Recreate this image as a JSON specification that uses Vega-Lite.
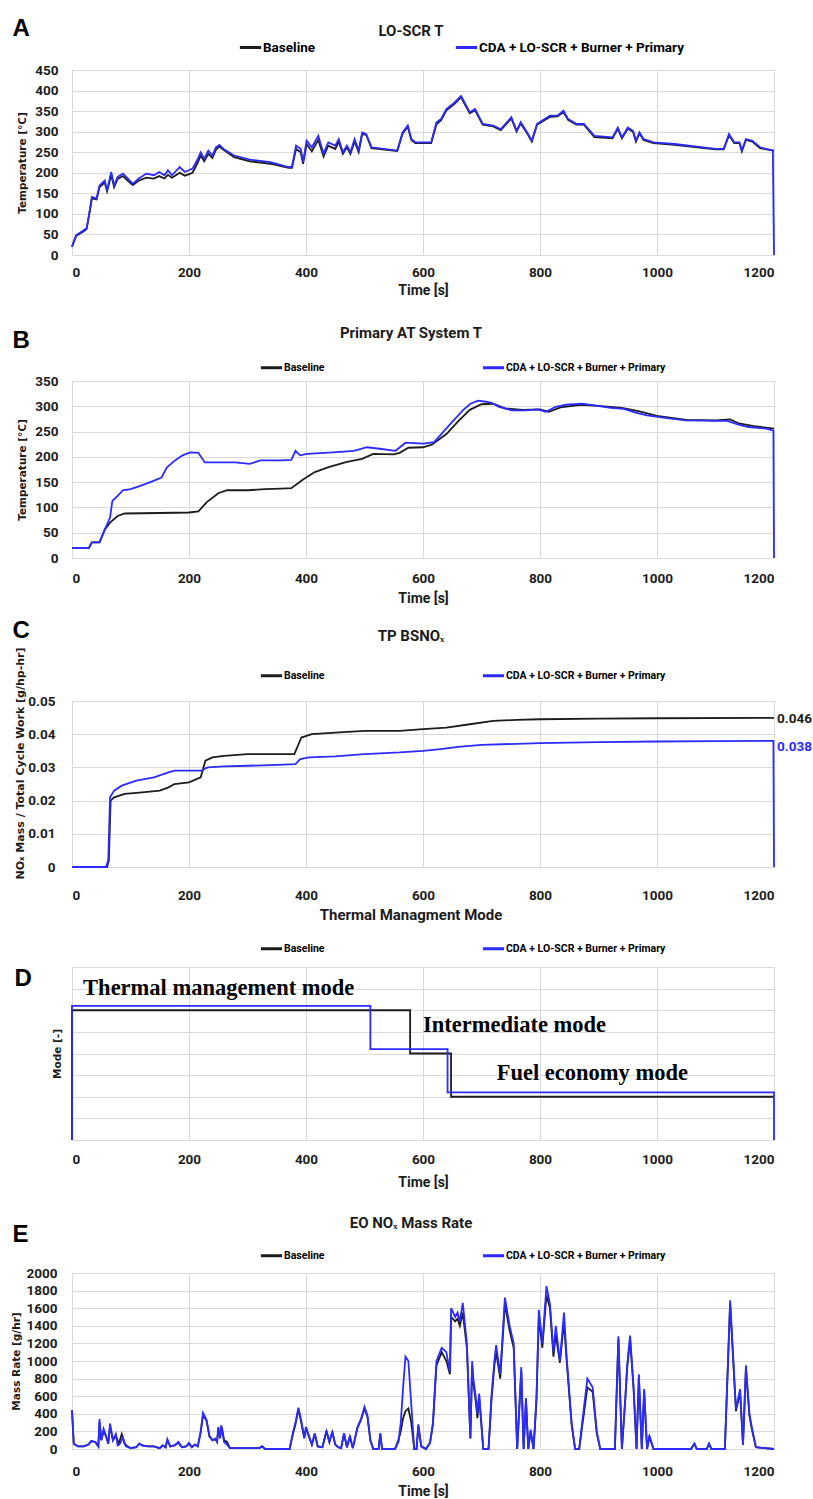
{
  "$schema": "https://vega.github.io/schema/vega-lite/v6.json",
  "padding": {"left": 10, "top": 17, "right": 0, "bottom": 0},
  "title": {"text": "A", "anchor": "start", "frame": "bounds", "dx": 2, "font": "Liberation Sans", "fontSize": 24, "fontWeight": "bold", "color": "#000", "offset": -17.5},
  "spacing": 27,
  "resolve": {"scale": {"color": "independent"}},
  "datasets": {
    "A": [
      {"s":"B","t":0,"v":20},{"s":"B","t":7,"v":46},{"s":"B","t":20,"v":58},{"s":"B","t":25,"v":63},{"s":"B","t":29,"v":95},{"s":"B","t":34,"v":138},{"s":"B","t":42,"v":135},{"s":"B","t":47,"v":165},{"s":"B","t":56,"v":176},{"s":"B","t":60,"v":155},{"s":"B","t":67,"v":195},{"s":"B","t":72,"v":165},{"s":"B","t":78,"v":185},{"s":"B","t":87,"v":192},{"s":"B","t":96,"v":180},{"s":"B","t":104,"v":170},{"s":"B","t":113,"v":180},{"s":"B","t":127,"v":188},{"s":"B","t":140,"v":186},{"s":"B","t":149,"v":192},{"s":"B","t":158,"v":186},{"s":"B","t":164,"v":195},{"s":"B","t":171,"v":188},{"s":"B","t":184,"v":200},{"s":"B","t":193,"v":193},{"s":"B","t":206,"v":200},{"s":"B","t":215,"v":225},{"s":"B","t":220,"v":242},{"s":"B","t":226,"v":228},{"s":"B","t":233,"v":246},{"s":"B","t":240,"v":236},{"s":"B","t":246,"v":256},{"s":"B","t":252,"v":264},{"s":"B","t":259,"v":256},{"s":"B","t":277,"v":238},{"s":"B","t":304,"v":228},{"s":"B","t":339,"v":222},{"s":"B","t":370,"v":212},{"s":"B","t":376,"v":212},{"s":"B","t":383,"v":258},{"s":"B","t":391,"v":250},{"s":"B","t":395,"v":222},{"s":"B","t":401,"v":270},{"s":"B","t":410,"v":252},{"s":"B","t":421,"v":280},{"s":"B","t":430,"v":240},{"s":"B","t":438,"v":266},{"s":"B","t":450,"v":258},{"s":"B","t":456,"v":276},{"s":"B","t":463,"v":246},{"s":"B","t":470,"v":262},{"s":"B","t":476,"v":246},{"s":"B","t":483,"v":276},{"s":"B","t":490,"v":250},{"s":"B","t":496,"v":294},{"s":"B","t":503,"v":292},{"s":"B","t":512,"v":260},{"s":"B","t":556,"v":253},{"s":"B","t":565,"v":295},{"s":"B","t":574,"v":312},{"s":"B","t":580,"v":280},{"s":"B","t":587,"v":272},{"s":"B","t":614,"v":272},{"s":"B","t":623,"v":318},{"s":"B","t":631,"v":328},{"s":"B","t":640,"v":352},{"s":"B","t":654,"v":368},{"s":"B","t":665,"v":384},{"s":"B","t":671,"v":368},{"s":"B","t":680,"v":345},{"s":"B","t":689,"v":352},{"s":"B","t":702,"v":317},{"s":"B","t":720,"v":313},{"s":"B","t":733,"v":304},{"s":"B","t":751,"v":332},{"s":"B","t":760,"v":300},{"s":"B","t":767,"v":320},{"s":"B","t":778,"v":296},{"s":"B","t":786,"v":276},{"s":"B","t":795,"v":317},{"s":"B","t":804,"v":325},{"s":"B","t":817,"v":336},{"s":"B","t":830,"v":337},{"s":"B","t":840,"v":348},{"s":"B","t":848,"v":329},{"s":"B","t":862,"v":317},{"s":"B","t":875,"v":317},{"s":"B","t":893,"v":287},{"s":"B","t":924,"v":284},{"s":"B","t":933,"v":307},{"s":"B","t":940,"v":284},{"s":"B","t":950,"v":307},{"s":"B","t":959,"v":300},{"s":"B","t":964,"v":276},{"s":"B","t":970,"v":296},{"s":"B","t":977,"v":280},{"s":"B","t":994,"v":272},{"s":"B","t":1030,"v":268},{"s":"B","t":1100,"v":257},{"s":"B","t":1114,"v":257},{"s":"B","t":1123,"v":291},{"s":"B","t":1132,"v":272},{"s":"B","t":1141,"v":272},{"s":"B","t":1145,"v":252},{"s":"B","t":1152,"v":280},{"s":"B","t":1163,"v":276},{"s":"B","t":1176,"v":260},{"s":"B","t":1200,"v":254},
      {"s":"C","t":0,"v":20},{"s":"C","t":7,"v":48},{"s":"C","t":20,"v":60},{"s":"C","t":25,"v":65},{"s":"C","t":29,"v":97},{"s":"C","t":34,"v":141},{"s":"C","t":42,"v":137},{"s":"C","t":47,"v":169},{"s":"C","t":56,"v":181},{"s":"C","t":60,"v":157},{"s":"C","t":67,"v":202},{"s":"C","t":72,"v":169},{"s":"C","t":78,"v":190},{"s":"C","t":87,"v":198},{"s":"C","t":96,"v":185},{"s":"C","t":104,"v":173},{"s":"C","t":113,"v":185},{"s":"C","t":127,"v":198},{"s":"C","t":140,"v":194},{"s":"C","t":149,"v":202},{"s":"C","t":158,"v":194},{"s":"C","t":164,"v":206},{"s":"C","t":171,"v":194},{"s":"C","t":184,"v":214},{"s":"C","t":193,"v":202},{"s":"C","t":206,"v":210},{"s":"C","t":215,"v":234},{"s":"C","t":220,"v":250},{"s":"C","t":226,"v":234},{"s":"C","t":233,"v":254},{"s":"C","t":240,"v":242},{"s":"C","t":246,"v":262},{"s":"C","t":252,"v":268},{"s":"C","t":259,"v":258},{"s":"C","t":277,"v":242},{"s":"C","t":304,"v":232},{"s":"C","t":339,"v":226},{"s":"C","t":370,"v":214},{"s":"C","t":376,"v":214},{"s":"C","t":383,"v":266},{"s":"C","t":391,"v":258},{"s":"C","t":395,"v":226},{"s":"C","t":401,"v":278},{"s":"C","t":410,"v":262},{"s":"C","t":421,"v":290},{"s":"C","t":430,"v":246},{"s":"C","t":438,"v":274},{"s":"C","t":450,"v":266},{"s":"C","t":456,"v":282},{"s":"C","t":463,"v":250},{"s":"C","t":470,"v":266},{"s":"C","t":476,"v":250},{"s":"C","t":483,"v":282},{"s":"C","t":490,"v":254},{"s":"C","t":496,"v":298},{"s":"C","t":503,"v":294},{"s":"C","t":512,"v":262},{"s":"C","t":556,"v":254},{"s":"C","t":565,"v":298},{"s":"C","t":574,"v":315},{"s":"C","t":580,"v":282},{"s":"C","t":587,"v":274},{"s":"C","t":614,"v":274},{"s":"C","t":623,"v":323},{"s":"C","t":631,"v":331},{"s":"C","t":640,"v":355},{"s":"C","t":654,"v":371},{"s":"C","t":665,"v":387},{"s":"C","t":671,"v":371},{"s":"C","t":680,"v":347},{"s":"C","t":689,"v":355},{"s":"C","t":702,"v":319},{"s":"C","t":720,"v":315},{"s":"C","t":733,"v":306},{"s":"C","t":751,"v":335},{"s":"C","t":760,"v":302},{"s":"C","t":767,"v":323},{"s":"C","t":778,"v":298},{"s":"C","t":786,"v":278},{"s":"C","t":795,"v":319},{"s":"C","t":804,"v":327},{"s":"C","t":817,"v":339},{"s":"C","t":830,"v":339},{"s":"C","t":840,"v":351},{"s":"C","t":848,"v":331},{"s":"C","t":862,"v":319},{"s":"C","t":875,"v":319},{"s":"C","t":893,"v":290},{"s":"C","t":924,"v":286},{"s":"C","t":933,"v":310},{"s":"C","t":940,"v":286},{"s":"C","t":950,"v":310},{"s":"C","t":959,"v":302},{"s":"C","t":964,"v":278},{"s":"C","t":970,"v":298},{"s":"C","t":977,"v":282},{"s":"C","t":994,"v":274},{"s":"C","t":1030,"v":270},{"s":"C","t":1100,"v":258},{"s":"C","t":1114,"v":258},{"s":"C","t":1123,"v":294},{"s":"C","t":1132,"v":274},{"s":"C","t":1141,"v":274},{"s":"C","t":1145,"v":254},{"s":"C","t":1152,"v":282},{"s":"C","t":1163,"v":278},{"s":"C","t":1176,"v":262},{"s":"C","t":1198,"v":254},{"s":"C","t":1200,"v":0}
    ],
    "B": [
      {"s":"B","t":0,"v":20},{"s":"B","t":29,"v":20},{"s":"B","t":34,"v":31},{"s":"B","t":47,"v":31},{"s":"B","t":56,"v":56},{"s":"B","t":65,"v":70},{"s":"B","t":78,"v":83},{"s":"B","t":90,"v":88},{"s":"B","t":150,"v":89},{"s":"B","t":200,"v":90},{"s":"B","t":216,"v":92},{"s":"B","t":230,"v":110},{"s":"B","t":250,"v":128},{"s":"B","t":265,"v":134},{"s":"B","t":300,"v":134},{"s":"B","t":330,"v":136},{"s":"B","t":357,"v":137},{"s":"B","t":375,"v":138},{"s":"B","t":395,"v":155},{"s":"B","t":415,"v":170},{"s":"B","t":440,"v":180},{"s":"B","t":470,"v":190},{"s":"B","t":496,"v":196},{"s":"B","t":515,"v":206},{"s":"B","t":550,"v":205},{"s":"B","t":560,"v":208},{"s":"B","t":575,"v":218},{"s":"B","t":600,"v":219},{"s":"B","t":615,"v":224},{"s":"B","t":640,"v":245},{"s":"B","t":660,"v":270},{"s":"B","t":680,"v":293},{"s":"B","t":700,"v":304},{"s":"B","t":720,"v":305},{"s":"B","t":740,"v":296},{"s":"B","t":770,"v":293},{"s":"B","t":800,"v":294},{"s":"B","t":815,"v":289},{"s":"B","t":835,"v":298},{"s":"B","t":870,"v":303},{"s":"B","t":900,"v":301},{"s":"B","t":940,"v":297},{"s":"B","t":970,"v":290},{"s":"B","t":1000,"v":281},{"s":"B","t":1050,"v":273},{"s":"B","t":1100,"v":272},{"s":"B","t":1125,"v":274},{"s":"B","t":1140,"v":266},{"s":"B","t":1170,"v":260},{"s":"B","t":1200,"v":256},
      {"s":"C","t":0,"v":20},{"s":"C","t":12,"v":20},{"s":"C","t":29,"v":20},{"s":"C","t":34,"v":31},{"s":"C","t":47,"v":31},{"s":"C","t":56,"v":56},{"s":"C","t":65,"v":80},{"s":"C","t":69,"v":113},{"s":"C","t":78,"v":123},{"s":"C","t":87,"v":134},{"s":"C","t":100,"v":136},{"s":"C","t":118,"v":143},{"s":"C","t":136,"v":151},{"s":"C","t":153,"v":159},{"s":"C","t":162,"v":179},{"s":"C","t":176,"v":193},{"s":"C","t":189,"v":203},{"s":"C","t":202,"v":209},{"s":"C","t":216,"v":208},{"s":"C","t":227,"v":189},{"s":"C","t":251,"v":189},{"s":"C","t":278,"v":189},{"s":"C","t":304,"v":186},{"s":"C","t":322,"v":193},{"s":"C","t":357,"v":193},{"s":"C","t":375,"v":194},{"s":"C","t":382,"v":212},{"s":"C","t":390,"v":203},{"s":"C","t":402,"v":206},{"s":"C","t":446,"v":209},{"s":"C","t":482,"v":212},{"s":"C","t":504,"v":219},{"s":"C","t":526,"v":216},{"s":"C","t":553,"v":212},{"s":"C","t":570,"v":228},{"s":"C","t":601,"v":226},{"s":"C","t":619,"v":229},{"s":"C","t":632,"v":246},{"s":"C","t":650,"v":269},{"s":"C","t":668,"v":292},{"s":"C","t":681,"v":305},{"s":"C","t":694,"v":311},{"s":"C","t":708,"v":309},{"s":"C","t":717,"v":307},{"s":"C","t":730,"v":299},{"s":"C","t":752,"v":292},{"s":"C","t":774,"v":292},{"s":"C","t":796,"v":294},{"s":"C","t":810,"v":289},{"s":"C","t":827,"v":299},{"s":"C","t":845,"v":303},{"s":"C","t":872,"v":305},{"s":"C","t":898,"v":301},{"s":"C","t":921,"v":297},{"s":"C","t":943,"v":295},{"s":"C","t":965,"v":287},{"s":"C","t":983,"v":282},{"s":"C","t":1014,"v":277},{"s":"C","t":1049,"v":272},{"s":"C","t":1102,"v":271},{"s":"C","t":1120,"v":271},{"s":"C","t":1138,"v":264},{"s":"C","t":1156,"v":259},{"s":"C","t":1187,"v":256},{"s":"C","t":1199,"v":252},{"s":"C","t":1200,"v":0}
    ],
    "C": [
      {"s":"B","t":0,"v":0},{"s":"B","t":60,"v":0},{"s":"B","t":63,"v":0.002},{"s":"B","t":66,"v":0.02},{"s":"B","t":72,"v":0.021},{"s":"B","t":90,"v":0.022},{"s":"B","t":120,"v":0.0225},{"s":"B","t":150,"v":0.023},{"s":"B","t":165,"v":0.024},{"s":"B","t":175,"v":0.025},{"s":"B","t":200,"v":0.0255},{"s":"B","t":220,"v":0.027},{"s":"B","t":228,"v":0.032},{"s":"B","t":240,"v":0.033},{"s":"B","t":260,"v":0.0335},{"s":"B","t":300,"v":0.034},{"s":"B","t":380,"v":0.034},{"s":"B","t":385,"v":0.036},{"s":"B","t":392,"v":0.039},{"s":"B","t":410,"v":0.04},{"s":"B","t":450,"v":0.0405},{"s":"B","t":500,"v":0.041},{"s":"B","t":560,"v":0.041},{"s":"B","t":600,"v":0.0415},{"s":"B","t":640,"v":0.042},{"s":"B","t":680,"v":0.043},{"s":"B","t":720,"v":0.044},{"s":"B","t":760,"v":0.0443},{"s":"B","t":800,"v":0.0445},{"s":"B","t":900,"v":0.0447},{"s":"B","t":1000,"v":0.0448},{"s":"B","t":1200,"v":0.0449},
      {"s":"C","t":0,"v":0},{"s":"C","t":58,"v":0},{"s":"C","t":62,"v":0.002},{"s":"C","t":65,"v":0.021},{"s":"C","t":72,"v":0.023},{"s":"C","t":85,"v":0.0245},{"s":"C","t":110,"v":0.026},{"s":"C","t":140,"v":0.027},{"s":"C","t":165,"v":0.0285},{"s":"C","t":175,"v":0.029},{"s":"C","t":222,"v":0.029},{"s":"C","t":226,"v":0.0295},{"s":"C","t":232,"v":0.03},{"s":"C","t":260,"v":0.0303},{"s":"C","t":300,"v":0.0305},{"s":"C","t":340,"v":0.0307},{"s":"C","t":382,"v":0.031},{"s":"C","t":390,"v":0.0325},{"s":"C","t":405,"v":0.033},{"s":"C","t":450,"v":0.0333},{"s":"C","t":500,"v":0.034},{"s":"C","t":560,"v":0.0345},{"s":"C","t":600,"v":0.035},{"s":"C","t":630,"v":0.0355},{"s":"C","t":660,"v":0.0362},{"s":"C","t":700,"v":0.0368},{"s":"C","t":760,"v":0.0371},{"s":"C","t":800,"v":0.0373},{"s":"C","t":900,"v":0.0376},{"s":"C","t":1000,"v":0.0378},{"s":"C","t":1100,"v":0.0379},{"s":"C","t":1199,"v":0.038},{"s":"C","t":1200,"v":0}
    ],
    "Clabels": [
      {"s":"B","t":1200,"v":0.0447,"label":"0.046"},
      {"s":"C","t":1200,"v":0.0362,"label":"0.038"}
    ],
    "D": [
      {"s":"B","t":0,"v":0},{"s":"B","t":0,"v":6},{"s":"B","t":578,"v":6},{"s":"B","t":578,"v":4},{"s":"B","t":648,"v":4},{"s":"B","t":648,"v":2},{"s":"B","t":1200,"v":2},
      {"s":"C","t":0,"v":0},{"s":"C","t":0,"v":6.2},{"s":"C","t":510,"v":6.2},{"s":"C","t":510,"v":4.2},{"s":"C","t":642,"v":4.2},{"s":"C","t":642,"v":2.2},{"s":"C","t":1200,"v":2.2},{"s":"C","t":1200,"v":0}
    ],
    "Dlabels": [
      {"t":19,"v":7.03,"label":"Thermal management mode"},
      {"t":600,"v":5.32,"label":"Intermediate mode"},
      {"t":726,"v":3.1,"label":"Fuel economy mode"}
    ],
    "E": [
      {"s":"B","t":0,"v":440},{"s":"B","t":3,"v":60},{"s":"B","t":10,"v":30},{"s":"B","t":20,"v":30},{"s":"B","t":28,"v":50},{"s":"B","t":33,"v":90},{"s":"B","t":40,"v":80},{"s":"B","t":45,"v":30},{"s":"B","t":47,"v":300},{"s":"B","t":50,"v":100},{"s":"B","t":54,"v":200},{"s":"B","t":58,"v":150},{"s":"B","t":62,"v":60},{"s":"B","t":65,"v":260},{"s":"B","t":70,"v":100},{"s":"B","t":75,"v":150},{"s":"B","t":80,"v":60},{"s":"B","t":85,"v":170},{"s":"B","t":90,"v":60},{"s":"B","t":95,"v":30},{"s":"B","t":100,"v":10},{"s":"B","t":110,"v":20},{"s":"B","t":115,"v":60},{"s":"B","t":120,"v":40},{"s":"B","t":130,"v":30},{"s":"B","t":140,"v":30},{"s":"B","t":150,"v":10},{"s":"B","t":155,"v":40},{"s":"B","t":160,"v":20},{"s":"B","t":163,"v":100},{"s":"B","t":168,"v":30},{"s":"B","t":175,"v":40},{"s":"B","t":182,"v":70},{"s":"B","t":188,"v":20},{"s":"B","t":195,"v":30},{"s":"B","t":200,"v":60},{"s":"B","t":205,"v":20},{"s":"B","t":210,"v":50},{"s":"B","t":215,"v":30},{"s":"B","t":220,"v":190},{"s":"B","t":224,"v":390},{"s":"B","t":230,"v":320},{"s":"B","t":235,"v":140},{"s":"B","t":240,"v":100},{"s":"B","t":245,"v":110},{"s":"B","t":248,"v":80},{"s":"B","t":250,"v":230},{"s":"B","t":253,"v":120},{"s":"B","t":256,"v":250},{"s":"B","t":260,"v":100},{"s":"B","t":265,"v":80},{"s":"B","t":270,"v":10},{"s":"B","t":280,"v":10},{"s":"B","t":320,"v":10},{"s":"B","t":325,"v":30},{"s":"B","t":330,"v":0},{"s":"B","t":372,"v":0},{"s":"B","t":378,"v":180},{"s":"B","t":382,"v":280},{"s":"B","t":387,"v":450},{"s":"B","t":392,"v":300},{"s":"B","t":397,"v":120},{"s":"B","t":400,"v":240},{"s":"B","t":405,"v":140},{"s":"B","t":410,"v":50},{"s":"B","t":415,"v":170},{"s":"B","t":420,"v":30},{"s":"B","t":428,"v":20},{"s":"B","t":435,"v":200},{"s":"B","t":440,"v":80},{"s":"B","t":445,"v":190},{"s":"B","t":450,"v":50},{"s":"B","t":455,"v":20},{"s":"B","t":460,"v":10},{"s":"B","t":465,"v":170},{"s":"B","t":470,"v":20},{"s":"B","t":475,"v":140},{"s":"B","t":480,"v":10},{"s":"B","t":488,"v":240},{"s":"B","t":494,"v":330},{"s":"B","t":500,"v":460},{"s":"B","t":505,"v":370},{"s":"B","t":510,"v":100},{"s":"B","t":515,"v":0},{"s":"B","t":524,"v":0},{"s":"B","t":527,"v":170},{"s":"B","t":530,"v":0},{"s":"B","t":552,"v":0},{"s":"B","t":558,"v":100},{"s":"B","t":562,"v":200},{"s":"B","t":566,"v":350},{"s":"B","t":570,"v":430},{"s":"B","t":575,"v":460},{"s":"B","t":580,"v":300},{"s":"B","t":585,"v":0},{"s":"B","t":589,"v":0},{"s":"B","t":592,"v":260},{"s":"B","t":597,"v":30},{"s":"B","t":605,"v":0},{"s":"B","t":612,"v":70},{"s":"B","t":617,"v":280},{"s":"B","t":623,"v":950},{"s":"B","t":632,"v":1100},{"s":"B","t":640,"v":1000},{"s":"B","t":646,"v":850},{"s":"B","t":648,"v":1500},{"s":"B","t":655,"v":1450},{"s":"B","t":659,"v":1480},{"s":"B","t":663,"v":1400},{"s":"B","t":668,"v":1550},{"s":"B","t":675,"v":1150},{"s":"B","t":681,"v":120},{"s":"B","t":684,"v":950},{"s":"B","t":686,"v":750},{"s":"B","t":690,"v":550},{"s":"B","t":693,"v":350},{"s":"B","t":696,"v":600},{"s":"B","t":703,"v":0},{"s":"B","t":712,"v":0},{"s":"B","t":717,"v":550},{"s":"B","t":722,"v":950},{"s":"B","t":725,"v":1100},{"s":"B","t":732,"v":800},{"s":"B","t":740,"v":1650},{"s":"B","t":748,"v":1350},{"s":"B","t":755,"v":1150},{"s":"B","t":761,"v":0},{"s":"B","t":768,"v":880},{"s":"B","t":772,"v":0},{"s":"B","t":776,"v":550},{"s":"B","t":780,"v":0},{"s":"B","t":784,"v":200},{"s":"B","t":789,"v":0},{"s":"B","t":794,"v":550},{"s":"B","t":798,"v":1500},{"s":"B","t":804,"v":1150},{"s":"B","t":811,"v":1750},{"s":"B","t":817,"v":1600},{"s":"B","t":823,"v":1050},{"s":"B","t":827,"v":1300},{"s":"B","t":834,"v":980},{"s":"B","t":841,"v":1450},{"s":"B","t":845,"v":1050},{"s":"B","t":854,"v":280},{"s":"B","t":860,"v":0},{"s":"B","t":867,"v":0},{"s":"B","t":872,"v":250},{"s":"B","t":881,"v":700},{"s":"B","t":890,"v":650},{"s":"B","t":897,"v":180},{"s":"B","t":903,"v":0},{"s":"B","t":928,"v":0},{"s":"B","t":934,"v":1250},{"s":"B","t":940,"v":0},{"s":"B","t":946,"v":580},{"s":"B","t":949,"v":920},{"s":"B","t":954,"v":1250},{"s":"B","t":960,"v":680},{"s":"B","t":965,"v":0},{"s":"B","t":969,"v":820},{"s":"B","t":974,"v":0},{"s":"B","t":978,"v":650},{"s":"B","t":983,"v":0},{"s":"B","t":987,"v":140},{"s":"B","t":994,"v":0},{"s":"B","t":1058,"v":0},{"s":"B","t":1064,"v":60},{"s":"B","t":1068,"v":0},{"s":"B","t":1085,"v":0},{"s":"B","t":1089,"v":60},{"s":"B","t":1093,"v":0},{"s":"B","t":1116,"v":0},{"s":"B","t":1125,"v":1650},{"s":"B","t":1135,"v":430},{"s":"B","t":1142,"v":650},{"s":"B","t":1147,"v":50},{"s":"B","t":1152,"v":900},{"s":"B","t":1158,"v":380},{"s":"B","t":1162,"v":230},{"s":"B","t":1169,"v":20},{"s":"B","t":1200,"v":0},
      {"s":"C","t":0,"v":440},{"s":"C","t":3,"v":60},{"s":"C","t":10,"v":30},{"s":"C","t":20,"v":30},{"s":"C","t":28,"v":50},{"s":"C","t":33,"v":90},{"s":"C","t":40,"v":80},{"s":"C","t":45,"v":30},{"s":"C","t":47,"v":340},{"s":"C","t":50,"v":100},{"s":"C","t":54,"v":230},{"s":"C","t":58,"v":150},{"s":"C","t":62,"v":60},{"s":"C","t":65,"v":290},{"s":"C","t":70,"v":100},{"s":"C","t":75,"v":170},{"s":"C","t":78,"v":40},{"s":"C","t":82,"v":60},{"s":"C","t":87,"v":130},{"s":"C","t":92,"v":30},{"s":"C","t":100,"v":10},{"s":"C","t":110,"v":20},{"s":"C","t":115,"v":60},{"s":"C","t":120,"v":40},{"s":"C","t":130,"v":30},{"s":"C","t":140,"v":30},{"s":"C","t":150,"v":10},{"s":"C","t":155,"v":40},{"s":"C","t":160,"v":20},{"s":"C","t":163,"v":110},{"s":"C","t":168,"v":30},{"s":"C","t":175,"v":40},{"s":"C","t":182,"v":80},{"s":"C","t":188,"v":20},{"s":"C","t":195,"v":30},{"s":"C","t":200,"v":70},{"s":"C","t":205,"v":20},{"s":"C","t":210,"v":50},{"s":"C","t":215,"v":30},{"s":"C","t":220,"v":200},{"s":"C","t":224,"v":410},{"s":"C","t":230,"v":330},{"s":"C","t":235,"v":150},{"s":"C","t":240,"v":100},{"s":"C","t":245,"v":120},{"s":"C","t":248,"v":80},{"s":"C","t":250,"v":250},{"s":"C","t":253,"v":130},{"s":"C","t":255,"v":270},{"s":"C","t":260,"v":80},{"s":"C","t":265,"v":50},{"s":"C","t":270,"v":10},{"s":"C","t":280,"v":10},{"s":"C","t":320,"v":10},{"s":"C","t":325,"v":30},{"s":"C","t":330,"v":0},{"s":"C","t":372,"v":0},{"s":"C","t":378,"v":200},{"s":"C","t":382,"v":300},{"s":"C","t":387,"v":470},{"s":"C","t":392,"v":320},{"s":"C","t":397,"v":130},{"s":"C","t":400,"v":250},{"s":"C","t":405,"v":150},{"s":"C","t":410,"v":50},{"s":"C","t":415,"v":180},{"s":"C","t":420,"v":30},{"s":"C","t":428,"v":20},{"s":"C","t":435,"v":210},{"s":"C","t":440,"v":80},{"s":"C","t":445,"v":200},{"s":"C","t":450,"v":50},{"s":"C","t":455,"v":20},{"s":"C","t":460,"v":10},{"s":"C","t":465,"v":180},{"s":"C","t":470,"v":20},{"s":"C","t":475,"v":150},{"s":"C","t":480,"v":10},{"s":"C","t":488,"v":250},{"s":"C","t":494,"v":340},{"s":"C","t":500,"v":480},{"s":"C","t":505,"v":380},{"s":"C","t":510,"v":100},{"s":"C","t":515,"v":0},{"s":"C","t":524,"v":0},{"s":"C","t":527,"v":180},{"s":"C","t":530,"v":0},{"s":"C","t":552,"v":0},{"s":"C","t":558,"v":80},{"s":"C","t":562,"v":300},{"s":"C","t":566,"v":700},{"s":"C","t":570,"v":1050},{"s":"C","t":575,"v":1000},{"s":"C","t":580,"v":500},{"s":"C","t":585,"v":0},{"s":"C","t":589,"v":0},{"s":"C","t":592,"v":280},{"s":"C","t":597,"v":30},{"s":"C","t":605,"v":0},{"s":"C","t":612,"v":70},{"s":"C","t":617,"v":300},{"s":"C","t":623,"v":1000},{"s":"C","t":632,"v":1150},{"s":"C","t":640,"v":1100},{"s":"C","t":646,"v":870},{"s":"C","t":648,"v":1600},{"s":"C","t":655,"v":1500},{"s":"C","t":659,"v":1550},{"s":"C","t":663,"v":1450},{"s":"C","t":668,"v":1660},{"s":"C","t":675,"v":1200},{"s":"C","t":681,"v":120},{"s":"C","t":684,"v":1000},{"s":"C","t":686,"v":800},{"s":"C","t":690,"v":600},{"s":"C","t":693,"v":400},{"s":"C","t":696,"v":630},{"s":"C","t":703,"v":0},{"s":"C","t":712,"v":0},{"s":"C","t":717,"v":600},{"s":"C","t":722,"v":1000},{"s":"C","t":725,"v":1180},{"s":"C","t":732,"v":850},{"s":"C","t":740,"v":1720},{"s":"C","t":748,"v":1400},{"s":"C","t":755,"v":1200},{"s":"C","t":761,"v":0},{"s":"C","t":768,"v":930},{"s":"C","t":772,"v":0},{"s":"C","t":776,"v":580},{"s":"C","t":780,"v":0},{"s":"C","t":784,"v":220},{"s":"C","t":789,"v":0},{"s":"C","t":794,"v":600},{"s":"C","t":798,"v":1580},{"s":"C","t":804,"v":1200},{"s":"C","t":811,"v":1850},{"s":"C","t":817,"v":1650},{"s":"C","t":823,"v":1100},{"s":"C","t":827,"v":1400},{"s":"C","t":834,"v":1000},{"s":"C","t":841,"v":1550},{"s":"C","t":845,"v":1100},{"s":"C","t":854,"v":300},{"s":"C","t":860,"v":0},{"s":"C","t":867,"v":0},{"s":"C","t":872,"v":300},{"s":"C","t":881,"v":800},{"s":"C","t":890,"v":700},{"s":"C","t":897,"v":200},{"s":"C","t":903,"v":0},{"s":"C","t":928,"v":0},{"s":"C","t":934,"v":1280},{"s":"C","t":940,"v":0},{"s":"C","t":946,"v":600},{"s":"C","t":949,"v":950},{"s":"C","t":954,"v":1290},{"s":"C","t":960,"v":700},{"s":"C","t":965,"v":0},{"s":"C","t":969,"v":850},{"s":"C","t":974,"v":0},{"s":"C","t":978,"v":680},{"s":"C","t":983,"v":0},{"s":"C","t":987,"v":150},{"s":"C","t":994,"v":0},{"s":"C","t":1058,"v":0},{"s":"C","t":1064,"v":60},{"s":"C","t":1068,"v":0},{"s":"C","t":1085,"v":0},{"s":"C","t":1089,"v":60},{"s":"C","t":1093,"v":0},{"s":"C","t":1116,"v":0},{"s":"C","t":1125,"v":1690},{"s":"C","t":1135,"v":450},{"s":"C","t":1142,"v":680},{"s":"C","t":1147,"v":50},{"s":"C","t":1152,"v":950},{"s":"C","t":1158,"v":400},{"s":"C","t":1162,"v":250},{"s":"C","t":1169,"v":20},{"s":"C","t":1200,"v":0}
    ]
  },
  "vconcat": [
    {
      "width": 702, "height": 185,
      "title": {"text": "LO-SCR T", "dx": -12, "offset": -4},
      "data": {"name": "A"},
      "mark": {"type": "line", "strokeWidth": 1.8},
      "encoding": {
        "x": {"field": "t", "type": "quantitative", "scale": {"domain": [0, 1200], "nice": false}, "axis": {"values": [0,200,400,600,800,1000,1200], "format": "d", "title": "Time [s]"}},
        "y": {"field": "v", "type": "quantitative", "scale": {"domain": [0, 450], "nice": false}, "axis": {"values": [0,50,100,150,200,250,300,350,400,450], "format": "d", "title": "Temperature [°C]", "labelPadding": 14, "titlePadding": 7}},
        "color": {"field": "s", "type": "nominal", "scale": {"domain": ["B", "C"], "range": ["#1c1c1c", "#2b2bff"]},
          "legend": {"legendX": 166, "legendY": -35, "labelFontSize": 13.5, "columnPadding": 133, "labelExpr": "datum.label == 'B' ? 'Baseline' : 'CDA + LO-SCR + Burner + Primary'"}}
      }
    },
    {
      "title": {"text": "B", "anchor": "start", "frame": "bounds", "dx": 2, "font": "Liberation Sans", "fontSize": 24, "fontWeight": "bold", "color": "#000", "offset": -27},
      "spacing": 13,
      "resolve": {"scale": {"color": "independent"}},
      "vconcat": [
        {
          "width": 702, "height": 177,
          "title": {"text": "Primary AT System T", "dx": -12, "offset": 14},
          "data": {"name": "B"},
          "mark": {"type": "line", "strokeWidth": 1.8},
          "encoding": {
            "x": {"field": "t", "type": "quantitative", "scale": {"domain": [0, 1200], "nice": false}, "axis": {"values": [0,200,400,600,800,1000,1200], "format": "d", "title": "Time [s]", "labelPadding": 13, "titlePadding": 7}},
            "y": {"field": "v", "type": "quantitative", "scale": {"domain": [0, 350], "nice": false}, "axis": {"values": [0,50,100,150,200,250,300,350], "format": "d", "title": "Temperature [°C]", "labelPadding": 14, "titlePadding": 7}},
            "color": {"field": "s", "type": "nominal", "scale": {"domain": ["B", "C"], "range": ["#1c1c1c", "#2b2bff"]},
              "legend": {"legendX": 187, "legendY": -26, "labelExpr": "datum.label == 'B' ? 'Baseline' : 'CDA + LO-SCR + Burner + Primary'"}}
          }
        },
        {
          "title": {"text": "C", "anchor": "start", "frame": "bounds", "dx": 2, "font": "Liberation Sans", "fontSize": 24, "fontWeight": "bold", "color": "#000", "offset": -15},
          "spacing": 5,
          "resolve": {"scale": {"color": "independent"}},
          "vconcat": [
            {
              "width": 702, "height": 166,
              "title": {"text": "TP BSNOₓ", "dx": -12, "offset": 3},
              "encoding": {
                "x": {"field": "t", "type": "quantitative", "scale": {"domain": [0, 1200], "nice": false}, "axis": {"values": [0,200,400,600,800,1000,1200], "format": "d", "title": null, "labelPadding": 21}},
                "y": {"field": "v", "type": "quantitative", "scale": {"domain": [0, 0.05], "nice": false}, "axis": {"values": [0,0.01,0.02,0.03,0.04,0.05], "format": "~g", "labelOverlap": false, "title": "NOₓ Mass / Total Cycle Work [g/hp-hr]", "titleFontSize": 11, "titleY": 62, "labelPadding": 17, "titlePadding": 2}}
              },
              "layer": [
                {
                  "data": {"name": "C"},
                  "mark": {"type": "line", "strokeWidth": 1.8},
                  "encoding": {
                    "color": {"field": "s", "type": "nominal", "scale": {"domain": ["B", "C"], "range": ["#1c1c1c", "#2b2bff"]},
                      "legend": {"legendX": 187, "legendY": -38, "labelExpr": "datum.label == 'B' ? 'Baseline' : 'CDA + LO-SCR + Burner + Primary'"}}
                  }
                },
                {
                  "data": {"name": "Clabels"},
                  "mark": {"type": "text", "align": "left", "baseline": "middle", "dx": 3, "font": "Roboto", "fontWeight": "bold", "fontSize": 13.5},
                  "encoding": {
                    "text": {"field": "label"},
                    "color": {"condition": {"test": "datum.s == 'C'", "value": "#2b2bff"}, "value": "#1c1c1c"}
                  }
                }
              ]
            },
            {
              "title": {"text": "D", "anchor": "start", "frame": "bounds", "dx": 4, "font": "Liberation Sans", "fontSize": 24, "fontWeight": "bold", "color": "#000", "offset": -83},
              "spacing": 25,
              "resolve": {"scale": {"color": "independent"}},
              "vconcat": [
                {
                  "width": 702, "height": 173,
                  "title": {"text": "Thermal Managment Mode", "dx": -12, "offset": 13},
                  "encoding": {
                    "x": {"field": "t", "type": "quantitative", "scale": {"domain": [0, 1200], "nice": false}, "axis": {"values": [0,200,400,600,800,1000,1200], "format": "d", "title": "Time [s]", "labelPadding": 12, "titlePadding": 10}},
                    "y": {"field": "v", "type": "quantitative", "scale": {"domain": [0, 8], "nice": false}, "axis": {"values": [0,1,2,3,4,5,6,7,8], "labels": false, "title": "Mode [-]", "titlePadding": 10}}
                  },
                  "layer": [
                    {
                      "data": {"name": "D"},
                      "mark": {"type": "line", "strokeWidth": 1.8},
                      "encoding": {
                        "color": {"field": "s", "type": "nominal", "scale": {"domain": ["B", "C"], "range": ["#1c1c1c", "#2b2bff"]},
                          "legend": {"legendX": 187, "legendY": -31, "labelExpr": "datum.label == 'B' ? 'Baseline' : 'CDA + LO-SCR + Burner + Primary'"}}
                      }
                    },
                    {
                      "data": {"name": "Dlabels"},
                      "mark": {"type": "text", "align": "left", "baseline": "middle", "font": "Liberation Serif", "fontWeight": "bold", "fontSize": 22.5, "color": "#000"},
                      "encoding": {
                        "text": {"field": "label"}
                      }
                    }
                  ]
                },
                {
                  "title": {"text": "E", "anchor": "start", "frame": "bounds", "dx": 2, "font": "Liberation Sans", "fontSize": 24, "fontWeight": "bold", "color": "#000", "offset": -31},
                  "resolve": {"scale": {"color": "independent"}},
                  "vconcat": [
                    {
                      "width": 702, "height": 176,
                      "title": {"text": "EO NOₓ Mass Rate", "dx": -12, "offset": 12},
                      "data": {"name": "E"},
                      "mark": {"type": "line", "strokeWidth": 1.8},
                      "encoding": {
                        "x": {"field": "t", "type": "quantitative", "scale": {"domain": [0, 1200], "nice": false}, "axis": {"values": [0,200,400,600,800,1000,1200], "format": "d", "title": "Time [s]", "labelPadding": 15, "titlePadding": 7}},
                        "y": {"field": "v", "type": "quantitative", "scale": {"domain": [0, 2000], "nice": false}, "axis": {"values": [0,200,400,600,800,1000,1200,1400,1600,1800,2000], "format": "d", "title": "Mass Rate [g/hr]", "labelPadding": 15, "titlePadding": 5}},
                        "color": {"field": "s", "type": "nominal", "scale": {"domain": ["B", "C"], "range": ["#1c1c1c", "#2b2bff"]},
                          "legend": {"legendX": 187, "legendY": -30, "labelExpr": "datum.label == 'B' ? 'Baseline' : 'CDA + LO-SCR + Burner + Primary'"}}
                      }
                    }
                  ]
                }
              ]
            }
          ]
        }
      ]
    }
  ],
  "config": {
    "view": {"stroke": "#d9d9d9"},
    "axis": {"grid": true, "gridColor": "#d9d9d9", "domain": false, "ticks": false, "labelFont": "Roboto", "labelFontWeight": "bold", "labelFontSize": 13.5, "labelColor": "#1c1c1c", "titleColor": "#1c1c1c"},
    "axisX": {"labelPadding": 10, "titleFont": "Roboto", "titleFontSize": 14, "titleFontWeight": "bold", "titlePadding": 5},
    "axisY": {"titleFont": "DejaVu Sans", "titleFontSize": 10.5, "titleFontWeight": "bold"},
    "title": {"font": "Roboto", "fontSize": 15, "fontWeight": "bold", "color": "#1c1c1c"},
    "legend": {"orient": "none", "direction": "horizontal", "title": null, "symbolType": "stroke", "symbolStrokeWidth": 3, "symbolSize": 450, "labelFont": "Roboto", "labelFontWeight": "bold", "labelFontSize": 10.5, "labelOffset": 0, "labelLimit": 0, "columnPadding": 151, "padding": 0}
  }
}
